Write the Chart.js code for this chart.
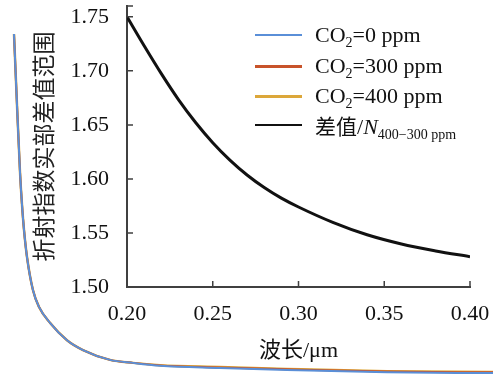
<!DOCTYPE html>
<html>
<head>
<meta charset="utf-8">
<script src="https://cdn.jsdelivr.net/npm/chart.js@4/dist/chart.umd.min.js"></script>
<style>
  html, body { margin: 0; padding: 0; background: #fff; }
  #wrap { position: relative; width: 500px; height: 378px; overflow: hidden; background: #fff; }
  canvas { position: absolute; left: 0; top: 0; }
  .leg { position: absolute; left: 255px; height: 28px; display: flex; align-items: center;
         font-family: 'Liberation Serif', 'Noto Sans CJK SC', serif; font-size: 22px; color: #111; white-space: nowrap; }
  .leg .ln { display: inline-block; width: 47px; margin-right: 13px; }
  .leg sub { font-size: 14px; vertical-align: -5px; line-height: 0; }
  .leg .cjk { font-family: 'Noto Sans CJK SC', sans-serif; font-size: 21px; }
</style>
</head>
<body>
<div id="wrap">
  <canvas id="bg" width="500" height="378"></canvas>
  <canvas id="inset" width="500" height="378"></canvas>
  <div id="legend"></div>
</div>
<script>
// ---- Inset: refractive-index difference range vs wavelength ----
const insetWavelength = [0.20, 0.21, 0.22, 0.23, 0.24, 0.25, 0.26, 0.27, 0.28, 0.29, 0.30, 0.32, 0.34, 0.36, 0.38, 0.40];
const insetDiff       = [1.7500, 1.7232, 1.6974, 1.6734, 1.6522, 1.6335, 1.6174, 1.6036, 1.5920, 1.5822, 1.5740, 1.5598, 1.5483, 1.5398, 1.5334, 1.5280];
const insetXTicks = [0.20, 0.25, 0.30, 0.35, 0.40];
const insetYTicks = [1.50, 1.55, 1.60, 1.65, 1.70, 1.75];

// ---- Background (outer) curves: refractive index real part vs wavelength ----
const outerWavelength = [0.70, 0.85, 1.00, 1.10, 1.20, 1.35, 1.65, 1.95, 2.5, 3.35, 4.15, 5.5, 6.65, 8.0, 11.0, 14.35, 19.35, 24.65];
const nCO2_400 = [1.755, 1.661, 1.5725, 1.529, 1.496, 1.460, 1.416, 1.394, 1.373, 1.350, 1.337, 1.324, 1.320, 1.317, 1.3145, 1.312, 1.309, 1.308];
const nCO2_300 = [1.755, 1.661, 1.5725, 1.529, 1.496, 1.460, 1.416, 1.394, 1.373, 1.350, 1.337, 1.324, 1.320, 1.3167, 1.314, 1.3115, 1.3085, 1.3075];
const nCO2_0   = [1.755, 1.661, 1.5725, 1.529, 1.496, 1.460, 1.416, 1.394, 1.373, 1.350, 1.337, 1.324, 1.320, 1.3163, 1.3133, 1.3105, 1.3075, 1.3065];

const co2Levels = [0, 300, 400];
const seriesColors = ['#5a8fd8', '#c8532a', '#dca73a'];
const seriesWidths = [2, 2, 2.5];
const diffLabel = { main: '差值', sym: 'N', sub: '400−300 ppm' };
const xTitle = '波长/μm';
const yTitle = '折射指数实部差值范围';

const toPts = (xs, ys) => xs.map((x, i) => ({ x, y: ys[i] }));

// Background chart (full canvas, hidden axes)
new Chart(document.getElementById('bg'), {
  type: 'line',
  data: {
    datasets: [nCO2_0, nCO2_300, nCO2_400].map((arr, i) => ({
      label: 'CO2=' + co2Levels[i] + ' ppm',
      data: toPts(outerWavelength, arr),
      borderColor: seriesColors[i],
      borderWidth: seriesWidths[i],
      pointRadius: 0,
      cubicInterpolationMode: 'monotone',
      fill: false
    }))
  },
  options: {
    responsive: false,
    animation: false,
    layout: { padding: 0 },
    plugins: { legend: { display: false }, tooltip: { enabled: false } },
    scales: {
      x: { type: 'linear', min: 0, max: 25, display: false },
      y: { type: 'linear', min: 1.30, max: 1.80, display: false }
    }
  }
});

// Inner tick marks plugin
const innerTicks = {
  id: 'innerTicks',
  afterDraw(chart) {
    const { ctx, chartArea, scales: { x, y } } = chart;
    ctx.save();
    ctx.strokeStyle = '#404040';
    ctx.lineWidth = 1.5;
    ctx.beginPath();
    y.ticks.forEach((t, i) => {
      const py = y.getPixelForTick(i);
      ctx.moveTo(chartArea.left, py);
      ctx.lineTo(chartArea.left + 6, py);
    });
    x.ticks.forEach((t, i) => {
      const px = x.getPixelForTick(i);
      ctx.moveTo(px, chartArea.bottom);
      ctx.lineTo(px, chartArea.bottom - 6);
    });
    ctx.stroke();
    ctx.restore();
  }
};

const tickFont = { family: "'Liberation Serif', serif", size: 22 };

new Chart(document.getElementById('inset'), {
  type: 'line',
  data: {
    datasets: [{
      label: '差值',
      data: toPts(insetWavelength, insetDiff),
      borderColor: '#111',
      borderWidth: 3,
      pointRadius: 0,
      cubicInterpolationMode: 'monotone',
      fill: false
    }]
  },
  options: {
    responsive: false,
    animation: false,
    layout: { padding: { left: 0, top: 6, right: 30, bottom: 0 } },
    plugins: { legend: { display: false }, tooltip: { enabled: false } },
    scales: {
      x: {
        type: 'linear', min: insetXTicks[0], max: insetXTicks[insetXTicks.length - 1],
        afterBuildTicks: s => { s.ticks = insetXTicks.map(v => ({ value: v })); },
        ticks: { callback: v => Number(v).toFixed(2), font: tickFont, color: '#111', padding: 6, maxRotation: 0, autoSkip: false },
        grid: { display: false },
        border: { display: true, color: '#404040', width: 2 },
        title: { display: true, text: xTitle, color: '#111',
                 font: { family: "'Liberation Serif', 'Noto Sans CJK SC', serif", size: 22 },
                 padding: { top: 0, bottom: 14 } },
        afterFit: s => { s.height = 91; s.paddingLeft = 0; s.paddingRight = 0; }
      },
      y: {
        type: 'linear', min: 1.50, max: 1.76,
        afterBuildTicks: s => { s.ticks = insetYTicks.concat([1.76]).map(v => ({ value: v })); },
        ticks: { callback: v => (insetYTicks.some(t => Math.abs(t - v) < 1e-9) ? Number(v).toFixed(2) : ''),
                 font: tickFont, color: '#111', padding: 10, autoSkip: false },
        grid: { display: false },
        border: { display: true, color: '#404040', width: 2 },
        title: { display: true, text: yTitle, color: '#222',
                 font: { family: "'Noto Sans CJK SC', sans-serif", size: 23 },
                 padding: { top: 29, bottom: 0 } },
        afterFit: s => { s.width = 127; s.paddingTop = 0; s.paddingBottom = 0; }
      }
    }
  },
  plugins: [innerTicks]
});

// Legend (HTML, with subscripts)
const legendRowsY = [35, 66, 96, 125];
const legendWidths = [2.5, 3, 3.5, 2];
const legend = document.getElementById('legend');
const rows = co2Levels.map((c, i) => ({ color: seriesColors[i], html: 'CO<sub>2</sub>=' + c + ' ppm' }));
rows.push({ color: '#111', html: '<span class="cjk">' + diffLabel.main + '</span>/<i>' + diffLabel.sym + '</i><sub>' + diffLabel.sub + '</sub>' });
rows.forEach((r, i) => {
  const d = document.createElement('div');
  d.className = 'leg';
  d.style.top = (legendRowsY[i] - 14) + 'px';
  d.innerHTML = '<span class="ln" style="border-top:' + legendWidths[i] + 'px solid ' + r.color + '"></span><span>' + r.html + '</span>';
  legend.appendChild(d);
});
</script>
</body>
</html>
